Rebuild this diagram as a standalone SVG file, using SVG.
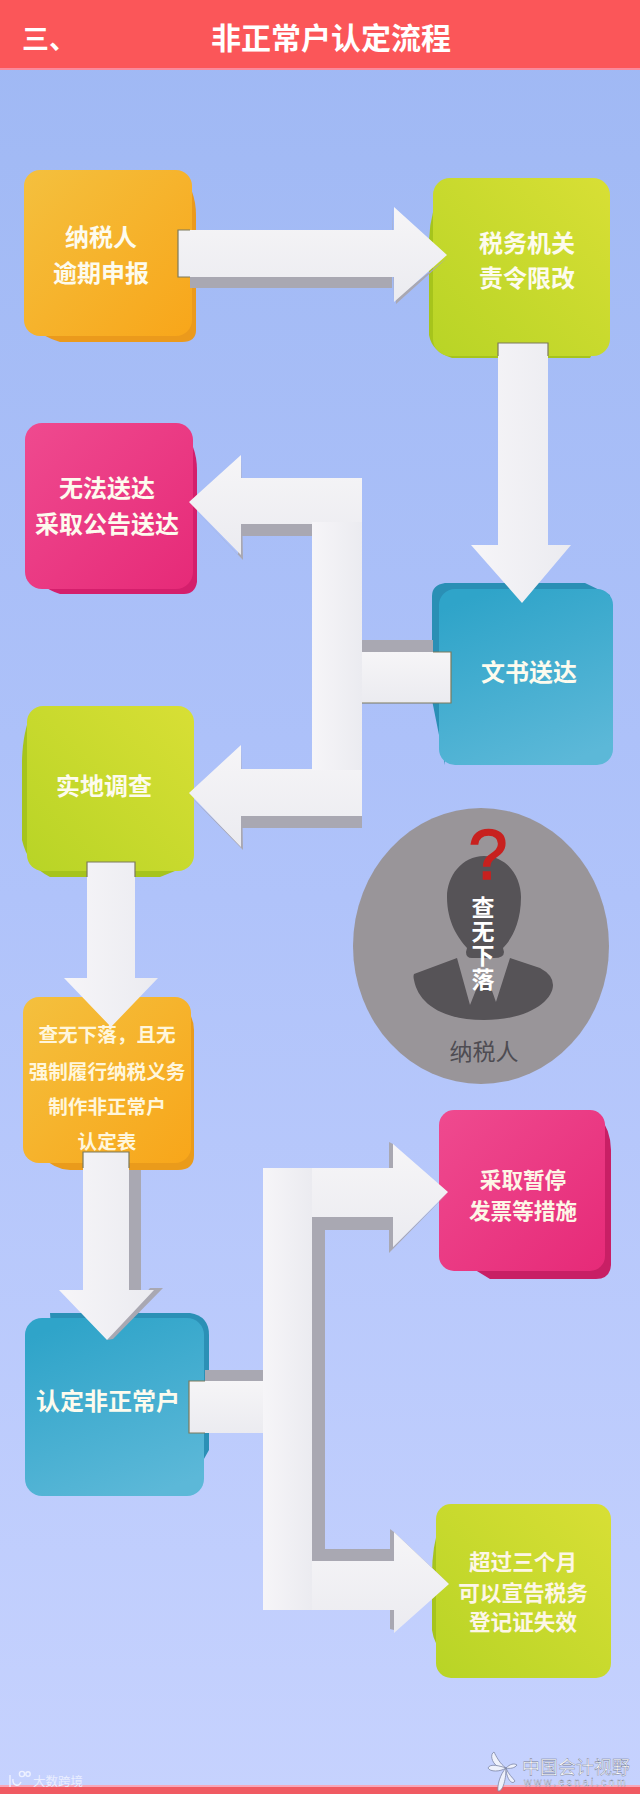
<svg xmlns="http://www.w3.org/2000/svg" width="640" height="1794" viewBox="0 0 640 1794">
<style>
text{font-family:"Noto Sans CJK SC","Liberation Sans",sans-serif;text-anchor:middle;dominant-baseline:central}
.t{fill:#fdfbee;font-weight:700;font-size:24px}
.t20{fill:#fff6dc;font-weight:700;font-size:19.6px}
.t22{fill:#fdf6e6;font-weight:700;font-size:21.6px}
.c{fill:#fff;font-weight:700;font-size:23px;writing-mode:vertical-rl;letter-spacing:1px}
.sh{fill:#a9a8b2}
.ar{fill:url(#gArrow)}
.arv{fill:url(#gArrowV)}
.edge{fill:none;stroke:#7c7a5c;stroke-width:1.2}
</style>
<defs>
<linearGradient id="bg" x1="0" y1="0" x2="0" y2="1"><stop offset="0" stop-color="#9fb8f4"/><stop offset="0.5" stop-color="#b0c3fa"/><stop offset="1" stop-color="#c6d2fe"/></linearGradient>
<linearGradient id="gArrow" x1="0" y1="0" x2="0" y2="1"><stop offset="0" stop-color="#f6f5f7"/><stop offset="1" stop-color="#ebebf0"/></linearGradient>
<linearGradient id="gArrowV" x1="0" y1="0" x2="1" y2="0"><stop offset="0" stop-color="#f6f5f8"/><stop offset="1" stop-color="#ebebf0"/></linearGradient>
<linearGradient id="gOr" x1="0" y1="0" x2="1" y2="1"><stop offset="0" stop-color="#f4c03e"/><stop offset="1" stop-color="#f8a61a"/></linearGradient>
<linearGradient id="gGr" x1="1" y1="0" x2="0" y2="1"><stop offset="0" stop-color="#d8df35"/><stop offset="1" stop-color="#b8d426"/></linearGradient>
<linearGradient id="gPk" x1="0" y1="0" x2="1" y2="1"><stop offset="0" stop-color="#ef4a8f"/><stop offset="1" stop-color="#e62a78"/></linearGradient>
<linearGradient id="gBl" x1="0.3" y1="0" x2="0.7" y2="1"><stop offset="0" stop-color="#2fa4c9"/><stop offset="1" stop-color="#5cb8d8"/></linearGradient>
</defs>
<rect id="background" width="640" height="1794" fill="url(#bg)"/>
<g id="header">
<rect width="640" height="68" fill="#fb5659"/><rect y="68" width="640" height="2" fill="#f98a9c"/>
<text x="49" y="37" style="fill:#fff;font-weight:700;font-size:27px">三、</text>
<text x="331" y="36" style="fill:#fff;font-weight:700;font-size:30px">非正常户认定流程</text>
</g>

<g id="node-taxpayer">
<path d="M180 172Q196 190 196 215V330Q196 342 182 342H60Q45 338 30 325Z" fill="#eb9a1c"/>
<rect x="24" y="170" width="168" height="166" rx="16" fill="url(#gOr)"/>
<text class="t" x="101" y="235">纳税人</text><text class="t" x="101" y="271">逾期申报</text>
</g>
<g id="node-tax-authority">
<path d="M444 184Q430 210 429 240V335Q432 352 452 358H590L600 340V184Z" fill="#a6c41c"/>
<rect x="433" y="178" width="177" height="178" rx="17" fill="url(#gGr)"/>
<text class="t" x="527" y="241">税务机关</text><text class="t" x="527" y="276">责令限改</text>
</g>
<g id="node-unreachable">
<path d="M180 425Q197 445 197 470V582Q195 594 184 594H60Q40 588 30 570Z" fill="#d41f6c"/>
<rect x="25" y="423" width="168" height="166" rx="17" fill="url(#gPk)"/>
<text class="t" x="107" y="486">无法送达</text><text class="t" x="107" y="522">采取公告送达</text>
</g>
<g id="node-delivery">
<path d="M445 583H585L610 595V700H445V765L432 700V596Q432 585 445 583Z" fill="#2a8fb5"/>
<rect x="439" y="589" width="174" height="176" rx="16" fill="url(#gBl)"/>
<text class="t" x="529" y="670">文书送达</text>
</g>
<g id="node-survey">
<path d="M32 712Q23 730 22 760V840Q28 866 50 877H160L190 865V712Z" fill="#a6c41c"/>
<rect x="27" y="706" width="167" height="165" rx="16" fill="url(#gGr)"/>
<text class="t" x="104" y="784">实地调查</text>
</g>
<g id="node-form">
<path d="M180 1000Q194 1015 194 1030V1155Q194 1170 178 1170H70Q55 1170 40 1155Z" fill="#ea9b1b"/>
<rect x="23" y="997" width="168" height="166" rx="16" fill="url(#gOr)"/>
<text class="t20" x="107" y="1033">查无下落，且无</text><text class="t20" x="107" y="1070">强制履行纳税义务</text>
<text class="t20" x="107" y="1105">制作非正常户</text><text class="t20" x="107" y="1140">认定表</text>
</g>
<g id="node-identified">
<path d="M50 1313H190Q209 1316 209 1335V1450L195 1475H60Z" fill="#2b90b6"/>
<rect x="25" y="1318" width="179" height="178" rx="17" fill="url(#gBl)"/>
<text class="t" x="108" y="1399">认定非正常户</text>
</g>
<g id="node-suspend">
<path d="M597 1112Q611 1130 611 1150V1265Q610 1279 596 1279H490L467 1265H597Z" fill="#c81f65"/>
<rect x="439" y="1110" width="166" height="161" rx="15" fill="url(#gPk)"/>
<text class="t22" x="523" y="1178">采取暂停</text><text class="t22" x="523" y="1209">发票等措施</text>
</g>
<g id="node-revoke">
<path d="M440 1525Q432 1545 432 1575V1630Q434 1645 445 1655H480V1525Z" fill="#a6c41c"/>
<rect x="436" y="1504" width="175" height="174" rx="15" fill="url(#gGr)"/>
<text class="t22" x="523" y="1560">超过三个月</text><text class="t22" x="523" y="1591">可以宣告税务</text><text class="t22" x="523" y="1620">登记证失效</text>
</g>

<g id="connectors">
<g id="edge-taxpayer-authority">
<path class="sh" d="M190 277H392V288H190Z M392 207L396 304L447 258L394 300Z"/>
<path class="ar" d="M178 230H394V207L447 255L394 302V277H178Z"/>
<path class="edge" d="M190 230H178V277H190"/>
</g>
<g id="edge-authority-delivery">
<path class="arv" d="M498 343H548V545H571L522 603L471 545H498Z"/>
<path class="edge" d="M498 356V343H548V356"/>
</g>
<g id="edge-delivery-split">
<path class="sh" d="M362 640H433V652H362Z M241 524H312V536H241Z M241 816H362V828H241Z M241 455L243 560L189 503L238 555Z M241 745L243 850L189 795L238 843Z"/>
<path class="ar" d="M451 652V703H362V652Z"/>
<path class="edge" d="M433 652H451V703H362"/>
<path class="ar" d="M362 478V524H241V555L189 502L241 455V478Z"/>
<path class="ar" d="M362 769V816H241V847L189 793L241 745V769Z"/>
<path class="arv" d="M312 522H362V770H312Z"/>
</g>
<g id="edge-survey-form">
<path class="arv" d="M87 862H135V978H158L111 1027L64 978H87Z"/>
<path class="edge" d="M87 877V862H135V877"/>
</g>
<g id="edge-form-identified">
<path class="sh" d="M129 1170H141V1290H129Z M150 1288H163L113 1339L107 1340Z"/>
<path class="arv" d="M83 1152H129V1290H154L107 1340L59 1290H83Z"/>
<path class="edge" d="M83 1168V1152H129V1168"/>
</g>
<g id="edge-identified-split">
<path class="sh" d="M205 1370H263V1381H205Z M312 1217H393V1230H325V1549H393V1561H312Z M389 1142L393 1144V1247L448 1193L389 1253Z M390 1529L394 1532L449 1584L394 1540V1630L390 1629Z"/>
<path class="ar" d="M263 1381V1433H189V1381Z"/>
<path class="edge" d="M205 1381H189V1433H205"/>
<path class="ar" d="M290 1168H393V1144L448 1192L393 1247V1217H290Z"/>
<path class="ar" d="M290 1561H394V1532L449 1584L394 1633V1610H290Z"/>
<path class="arv" d="M263 1168H312V1610H263Z"/>
</g>
</g>

<g id="person">
<ellipse cx="481" cy="946" rx="128" ry="138" fill="#999599"/>
<path d="M484 856C508 856 521 878 521 897C521 925 510 941 503 948L504 952Q504 958 494 958H472Q466 958 466 952L467 948C458 938 447 922 447 897C447 876 462 856 484 856Z" fill="#565357"/>
<path d="M457 958L414 974Q413 976 414 980C418 1002 440 1020 484 1020C530 1020 553 1000 553 985Q553 975 540 968L510 958L495 1005H470Z" fill="#565357"/>
<path d="M470 1005L478 985H490L497 1005Z" fill="#565357"/>
<text x="488" y="855" style="fill:#c8211f;stroke:#c8211f;stroke-width:1.5;font-size:70px;font-family:'Liberation Sans',sans-serif;font-weight:400">?</text>
<text class="c" x="483" y="944">查无下落</text>
<text x="484" y="1050" style="fill:#4e4c52;font-size:23px">纳税人</text>
</g>

<g id="footer">
<rect y="1785" width="640" height="2" fill="#f8a6b8"/>
<rect y="1787" width="640" height="7" fill="#f05a62"/>
<g fill="none" stroke="#eef1ff" stroke-width="1.4">
<path d="M10 1775V1787M13 1779C12 1786 19 1787 21 1782"/><circle cx="22" cy="1774" r="2.6"/><circle cx="28" cy="1774" r="2.2"/>
</g>
<g fill="#eef1fb" stroke="#7e86a6" stroke-width=".8">
<path d="M506 1768C500 1764 496 1756 494 1752C490 1754 491 1762 498 1767Z"/>
<path d="M506 1768C500 1766 490 1763 488 1768C490 1772 500 1772 506 1768Z"/>
<path d="M506 1768C500 1774 497 1786 498 1791C502 1792 506 1782 506 1768Z"/>
<path d="M506 1768C508 1774 513 1778 515 1781C512 1786 506 1778 506 1768Z"/>
<path d="M506 1768C510 1764 514 1763 517 1765C515 1768 510 1769 506 1768Z"/>
</g>
<text x="58" y="1780" style="fill:#eaeeff;font-size:12.5px;font-weight:400">大数跨境</text>
<text x="576" y="1766" style="fill:#fff;stroke:#6f7693;stroke-width:.4;font-size:18px;font-weight:400">中国会计视野</text>
<text x="576" y="1782" style="fill:#fff;stroke:#6f7693;stroke-width:.3;font-size:10.5px;letter-spacing:2.4px;font-family:'Liberation Sans',sans-serif">www.esnai.com</text>
</g>
</svg>
